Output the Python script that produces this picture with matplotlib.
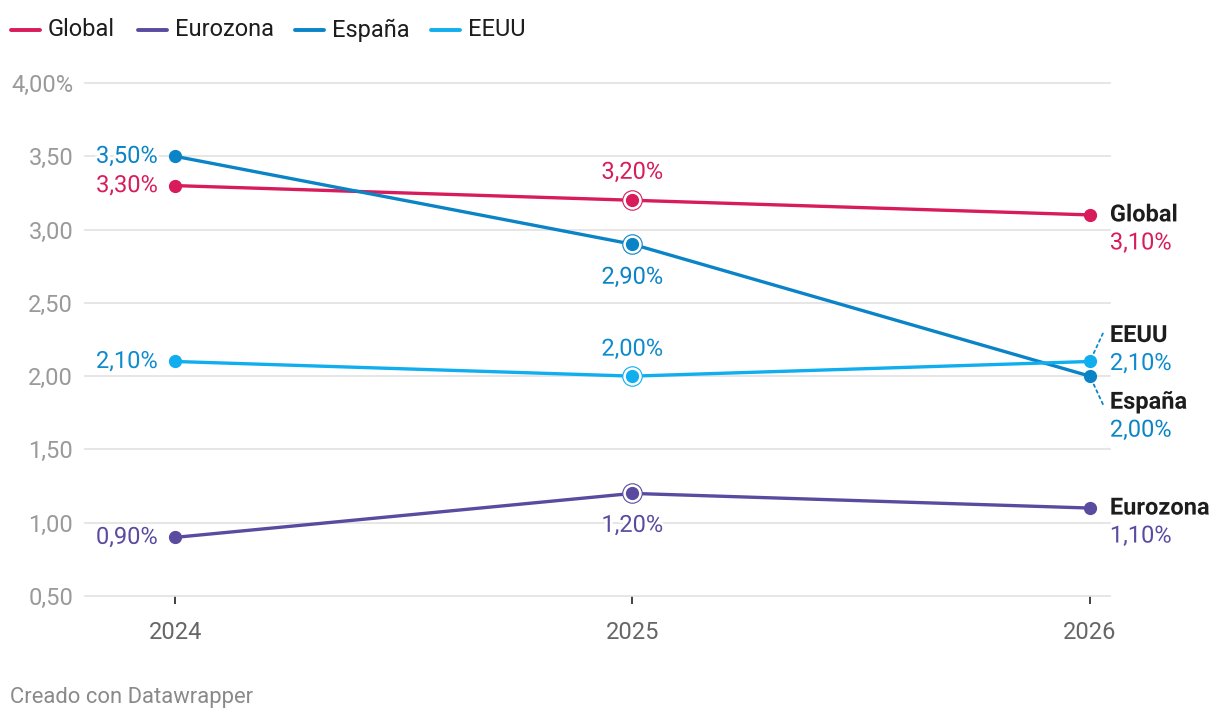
import numpy as np
import matplotlib.pyplot as plt
import matplotlib.patheffects as pe

plt.rcParams['font.family'] = ['Roboto', 'DejaVu Sans']

# data
years = [2024, 2025, 2026]
series = ['Global', 'Eurozona', 'España', 'EEUU']
global_vals = [3.30, 3.20, 3.10]
eurozona_vals = [0.90, 1.20, 1.10]
espana_vals = [3.50, 2.90, 2.00]
eeuu_vals = [2.10, 2.00, 2.10]
yticks = [0.5, 1.0, 1.5, 2.0, 2.5, 3.0, 3.5, 4.0]

colors = {'Global': '#d81b5a', 'Eurozona': '#5a4aa0', 'España': '#0a84c6', 'EEUU': '#10aeee'}
text_colors = {'Global': '#d81b5a', 'Eurozona': '#5a4aa0', 'España': '#0a84c6', 'EEUU': '#0d8bcd'}
values = {'Global': global_vals, 'Eurozona': eurozona_vals, 'España': espana_vals, 'EEUU': eeuu_vals}

# label placement (pixel offsets) for 2025 / 2026
off25 = {'Global': 28, 'Eurozona': -32, 'España': -33, 'EEUU': 27}
name26 = {'Global': 0, 'Eurozona': 0, 'España': -26, 'EEUU': 26}

FS = 17
halo = [pe.withStroke(linewidth=4, foreground='white')]

def fmt(v):
    return f'{v:.2f}'.replace('.', ',') + '%'

W, H = 1220, 724
fig = plt.figure(figsize=(W / 100, H / 100), dpi=100)
ax = fig.add_axes([85 / W, 1 - 596 / H, 1025 / W, 513 / H])

ax.set_xlim(2023.803, 2026.044)
ax.set_ylim(0.5, 4.0)
for s in ax.spines.values():
    s.set_visible(False)

ax.set_yticks(yticks)
ax.set_yticklabels([f'{t:.2f}'.replace('.', ',') + ('%' if t == 4.0 else '') for t in yticks])
ax.tick_params(axis='y', length=0, pad=8.5, labelsize=FS, labelcolor='#9a9a9a')
ax.yaxis.grid(True, color='#e2e2e2', lw=1.2)
for gl in ax.get_ygridlines():
    gl.set_clip_on(False)
ax.set_axisbelow(True)

ax.set_xticks(years)
ax.set_xticklabels([str(y) for y in years])
ax.tick_params(axis='x', length=6, width=1.2, color='#222222', pad=12,
               labelsize=FS, labelcolor='#666666')

for name in series:
    c = colors[name]
    tc = text_colors[name]
    v = values[name]
    ax.plot(years, v, color=c, lw=2.4, zorder=3, solid_capstyle='round')
    ax.plot(years[1], v[1], 'o', ms=14, mfc='white', mec=c, mew=0.8, zorder=4)
    ax.plot(years, v, 'o', ms=8.5, color=c, zorder=5, lw=0)

    # 2024 labels
    ax.annotate(fmt(v[0]), (years[0], v[0]), xytext=(-17, 0), textcoords='offset pixels',
                ha='right', va='center', fontsize=FS, color=tc, path_effects=halo, zorder=6)
    # 2025 labels
    ax.annotate(fmt(v[1]), (years[1], v[1]), xytext=(0, off25[name]), textcoords='offset pixels',
                ha='center', va='center', fontsize=FS, color=tc, path_effects=halo, zorder=6)
    # 2026 labels
    dy = name26[name]
    ax.annotate(name, (years[2], v[2]), xytext=(20, dy), textcoords='offset pixels',
                ha='left', va='center', fontsize=FS, color='#1d1d1d', fontweight='bold',
                path_effects=halo, zorder=6)
    ax.annotate(fmt(v[2]), (years[2], v[2]), xytext=(20, dy - 28), textcoords='offset pixels',
                ha='left', va='center', fontsize=FS, color=tc, path_effects=halo, zorder=6)
    if dy != 0:
        sgn = 1 if dy > 0 else -1
        ax.annotate('', xy=(years[2], v[2]), xytext=(13, sgn * 28), textcoords='offset pixels',
                    arrowprops=dict(arrowstyle='-', color=tc, lw=1.3, linestyle=(0, (1.5, 2)),
                                    shrinkA=0, shrinkB=6))

# legend and footer in pixel space
ov = fig.add_axes([0, 0, 1, 1])
ov.set_xlim(0, W)
ov.set_ylim(H, 0)
ov.axis('off')
leg_x = [11, 138, 295, 431]
for name, x0 in zip(series, leg_x):
    ov.plot([x0, x0 + 29], [30, 30], color=colors[name], lw=2.8, solid_capstyle='round')
    ov.text(x0 + 37, 30, name, ha='left', va='center', fontsize=FS, color='#1d1d1d')

ov.text(10, 698, 'Creado con Datawrapper', ha='left', va='center', fontsize=15.8, color='#8a8a8a')

fig.savefig('out.png', dpi=100)
